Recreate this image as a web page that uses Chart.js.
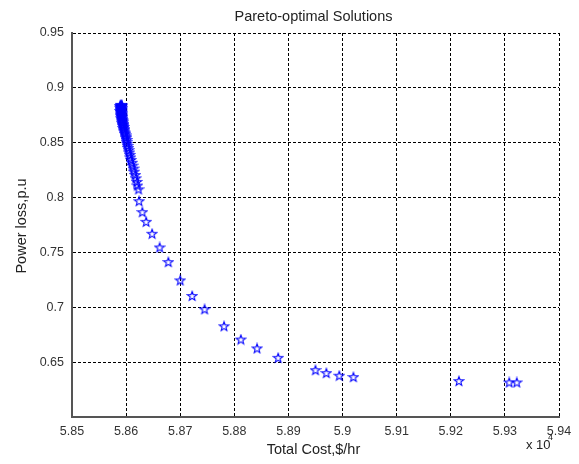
<!DOCTYPE html>
<html>
<head>
<meta charset="utf-8">
<script src="https://cdn.jsdelivr.net/npm/chart.js@4/dist/chart.umd.min.js"></script>
<style>
  html, body { margin: 0; padding: 0; background: #fff; }
  #wrap { width: 579px; height: 464px; }
</style>
</head>
<body>
<div id="wrap"><canvas id="paretoChart" width="579" height="464"></canvas></div>
<script>
// Total cost in units of 10^4 $/hr
const costValues = [
    5.8590, 5.8592, 5.8591, 5.8589, 5.8592, 5.8590, 5.8591, 5.8589, 5.8592, 5.8590,
    5.8591, 5.8592, 5.8590, 5.8591, 5.8589, 5.8592, 5.8591, 5.8590, 5.8592, 5.8591,
    5.8592, 5.8590, 5.8593, 5.8591, 5.8592, 5.8593, 5.8591, 5.8593, 5.8592, 5.8594,
    5.8592, 5.8594, 5.8593, 5.8595, 5.8594, 5.8595, 5.8596, 5.8595, 5.8597, 5.8596,
    5.8597, 5.8598, 5.8598, 5.8599, 5.8600,
    5.8600, 5.8601, 5.8601, 5.8602, 5.8603, 5.8604, 5.8605, 5.8606, 5.8607, 5.8608,
    5.8609, 5.8611, 5.8612, 5.8614, 5.8615, 5.8617, 5.8618, 5.8620, 5.8621, 5.8623,
    5.8624, 5.8630, 5.8637, 5.8648, 5.8662, 5.8678, 5.8700, 5.8722, 5.8745, 5.8781,
    5.8812, 5.8842, 5.8881, 5.8950, 5.8970, 5.8994, 5.9020, 5.9215, 5.9308, 5.9322
];
// Power loss, p.u
const lossValues = [
    0.8845, 0.8842, 0.8839, 0.8835, 0.8832, 0.8828, 0.8824, 0.8820, 0.8816, 0.8812,
    0.8808, 0.8803, 0.8799, 0.8794, 0.8790, 0.8785, 0.8780, 0.8775, 0.8770, 0.8765,
    0.8759, 0.8754, 0.8748, 0.8742, 0.8736, 0.8730, 0.8723, 0.8716, 0.8709, 0.8702,
    0.8695, 0.8687, 0.8679, 0.8671, 0.8662, 0.8653, 0.8644, 0.8634, 0.8624, 0.8614,
    0.8603, 0.8592, 0.8580, 0.8568, 0.8555,
    0.8542, 0.8525, 0.8508, 0.8490, 0.8471, 0.8452, 0.8432, 0.8411, 0.8389, 0.8366,
    0.8342, 0.8317, 0.8291, 0.8264, 0.8236, 0.8206, 0.8175, 0.8143, 0.8110, 0.8075,
    0.7967, 0.7867, 0.7779, 0.7670, 0.7545, 0.7412, 0.7245, 0.7103, 0.6982, 0.6827,
    0.6706, 0.6625, 0.6539, 0.6427, 0.6400, 0.6376, 0.6364, 0.6327, 0.6315, 0.6315
];
const xTicks = [5.85, 5.86, 5.87, 5.88, 5.89, 5.90, 5.91, 5.92, 5.93, 5.94];
const yTicks = [0.65, 0.70, 0.75, 0.80, 0.85, 0.90, 0.95];

const FONT = '"Liberation Sans", Arial, sans-serif';

// outlined five-point star, like the matlab pentagram marker
function makeStar(color) {
    const c = document.createElement('canvas');
    c.width = 12; c.height = 12;
    const g = c.getContext('2d');
    const R = 4.8, r = 2.0, cx = 6, cy = 6.3;
    g.beginPath();
    for (let i = 0; i < 10; i++) {
        const rad = i % 2 === 0 ? R : r;
        const a = -Math.PI / 2 + i * Math.PI / 5;
        const px = cx + rad * Math.cos(a), py = cy + rad * Math.sin(a);
        if (i === 0) g.moveTo(px, py); else g.lineTo(px, py);
    }
    g.closePath();
    g.strokeStyle = color;
    g.lineWidth = 1.1;
    g.stroke();
    return c;
}

const textPlugin = {
    id: 'labels',
    afterDraw(chart) {
        const ctx = chart.ctx;
        const area = chart.chartArea;
        const mid = (area.left + area.right) / 2;
        ctx.save();
        ctx.fillStyle = '#222';
        ctx.textAlign = 'center';
        ctx.textBaseline = 'alphabetic';
        ctx.font = '14.5px ' + FONT;
        ctx.fillText('Pareto-optimal Solutions', mid - 2, 21);
        ctx.fillText('Total Cost,$/hr', mid - 2, 454);

        ctx.save();
        ctx.translate(26, (area.top + area.bottom) / 2 + 1);
        ctx.rotate(-Math.PI / 2);
        ctx.fillText('Power loss,p.u', 0, 0);
        ctx.restore();

        ctx.textAlign = 'left';
        ctx.font = '13px ' + FONT;
        ctx.fillText('x 10', 526, 449);
        ctx.font = '9px ' + FONT;
        ctx.fillText('4', 548, 440);
        ctx.restore();
    }
};

const points = costValues.map((x, i) => ({ x: x, y: lossValues[i] }));

new Chart(document.getElementById('paretoChart'), {
    type: 'scatter',
    data: {
        datasets: [{
            data: points,
            pointStyle: makeStar('#0000ff'),
            pointRadius: 5,
            borderColor: '#0000ff'
        }]
    },
    options: {
        responsive: false,
        animation: false,
        layout: { padding: { top: 33, right: 20, left: 0, bottom: 0 } },
        plugins: {
            legend: { display: false },
            tooltip: { enabled: false }
        },
        scales: {
            x: {
                type: 'linear',
                min: 5.85,
                max: 5.94,
                afterBuildTicks: (s) => { s.ticks = xTicks.map(v => ({ value: v })); },
                afterFit: (s) => { s.height = 47; },
                ticks: {
                    padding: 7,
                    color: '#333',
                    font: { family: FONT, size: 12.5 },
                    callback: (v) => String(Number(v.toFixed(2)))
                },
                grid: { color: '#000', lineWidth: 1, drawTicks: false },
                border: { color: '#555', width: 2, dash: [3, 2] }
            },
            y: {
                type: 'linear',
                min: 0.6,
                max: 0.95,
                afterBuildTicks: (s) => { s.ticks = yTicks.map(v => ({ value: v })); },
                afterFit: (s) => { s.width = 72; },
                ticks: {
                    padding: 8,
                    color: '#333',
                    font: { family: FONT, size: 12.5 },
                    callback: (v) => String(Number(v.toFixed(2)))
                },
                grid: { color: '#000', lineWidth: 1, drawTicks: false },
                border: { color: '#555', width: 2, dash: [3, 2] }
            }
        }
    },
    plugins: [textPlugin]
});
</script>
</body>
</html>
